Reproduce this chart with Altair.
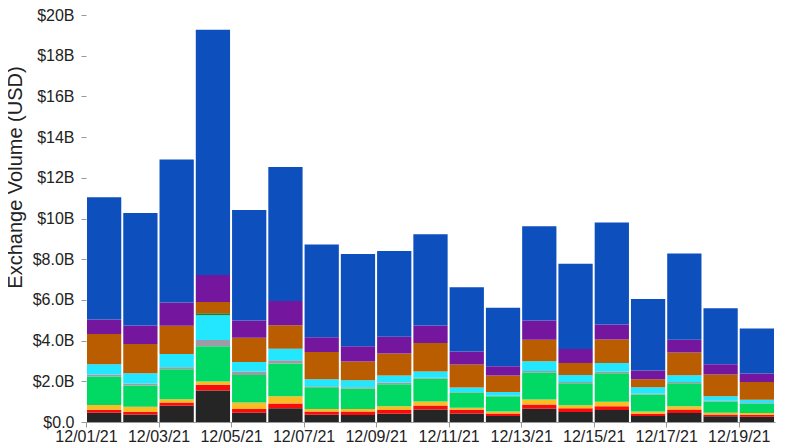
import altair as alt
import pandas as pd

dates = ["2021-12-%02d" % d for d in range(1, 20)]
date_ends = ["2021-12-%02d" % d for d in range(2, 21)]

series_names = ["S1", "S2", "S3", "S4", "S5", "S6", "S7", "S8", "S9", "S10"]
colors = ["#252525", "#f80c0c", "#fbbd23", "#02d864", "#9c9ca6", "#23e6ff",
          "#1d7f3b", "#ba5c00", "#74169e", "#0c4fbd"]

# values in billions USD, bottom to top
s1 = [0.46, 0.37, 0.80, 1.55, 0.46, 0.67, 0.36, 0.34, 0.41, 0.62, 0.42, 0.29, 0.65, 0.49, 0.59, 0.29, 0.44, 0.28, 0.26]
s2 = [0.14, 0.12, 0.16, 0.28, 0.18, 0.24, 0.16, 0.17, 0.18, 0.19, 0.18, 0.13, 0.21, 0.18, 0.19, 0.12, 0.18, 0.09, 0.10]
s3 = [0.23, 0.26, 0.16, 0.16, 0.32, 0.35, 0.12, 0.13, 0.19, 0.20, 0.10, 0.10, 0.25, 0.15, 0.21, 0.10, 0.15, 0.09, 0.08]
s4 = [1.40, 1.04, 1.47, 1.73, 1.35, 1.61, 1.07, 1.01, 1.08, 1.11, 0.75, 0.74, 1.32, 1.09, 1.41, 0.84, 1.14, 0.55, 0.46]
s5 = [0.10, 0.10, 0.10, 0.31, 0.17, 0.16, 0.05, 0.06, 0.08, 0.05, 0.03, 0.04, 0.08, 0.06, 0.08, 0.05, 0.06, 0.03, 0.03]
s6 = [0.51, 0.51, 0.65, 1.22, 0.47, 0.57, 0.34, 0.34, 0.34, 0.31, 0.22, 0.18, 0.47, 0.34, 0.42, 0.31, 0.33, 0.23, 0.16]
s7 = [0.00, 0.00, 0.00, 0.10, 0.00, 0.00, 0.00, 0.00, 0.00, 0.00, 0.00, 0.00, 0.00, 0.00, 0.00, 0.00, 0.00, 0.00, 0.00]
s8 = [1.48, 1.43, 1.39, 0.55, 1.19, 1.16, 1.34, 0.92, 1.08, 1.40, 1.12, 0.80, 1.06, 0.59, 1.16, 0.39, 1.12, 1.06, 0.88]
s9 = [0.72, 0.91, 1.14, 1.32, 0.85, 1.19, 0.73, 0.75, 0.83, 0.86, 0.64, 0.46, 0.95, 0.69, 0.73, 0.43, 0.62, 0.51, 0.41]
s10 = [6.01, 5.53, 7.03, 12.05, 5.43, 6.58, 4.55, 4.53, 4.21, 4.49, 3.16, 2.88, 4.63, 4.19, 5.01, 3.52, 4.24, 2.75, 2.22]

all_series = [s1, s2, s3, s4, s5, s6, s7, s8, s9, s10]

rows = []
for rank, (name, vals) in enumerate(zip(series_names, all_series)):
    for d, e, v in zip(dates, date_ends, vals):
        rows.append({"date": d, "date_end": e, "exchange": name, "rank": rank, "value": v * 1e9})
df = pd.DataFrame(rows)

y_ticks = [i * 2e9 for i in range(11)]
x_ticks = [{"year": 2021, "month": 12, "date": d, "utc": True} for d in range(1, 20, 2)]

chart = alt.Chart(df).transform_stack(
    stack="value",
    as_=["v0", "v1"],
    groupby=["date"],
    sort=[alt.SortField("rank", order="ascending")],
).mark_bar(xOffset=1, x2Offset=-1).encode(
    x=alt.X(
        "date:T",
        title=None,
        scale=alt.Scale(type="utc", domain=[{"year": 2021, "month": 12, "date": 1, "utc": True},
                                            {"year": 2021, "month": 12, "date": 20, "utc": True}]),
        axis=alt.Axis(
            values=x_ticks,
            labelExpr="utcFormat(datum.value, '%m/%d/%y')",
            labelFlush=False,
            labelOverlap=False,
            grid=False,
            domain=True,
            domainColor="#999999",
            tickColor="#999999",
            tickSize=5,
            labelPadding=1,
        ),
    ),
    x2="date_end:T",
    y=alt.Y(
        "v0:Q",
        scale=alt.Scale(domain=[0, 20e9], nice=False),
        axis=alt.Axis(
            values=y_ticks,
            labelExpr="replace(format(datum.value, '$.2s'), 'G', 'B')",
            title="Exchange Volume (USD)",
            titleFontSize=20,
            titleFontWeight="normal",
            titleFont="Liberation Sans",
            titleColor="#222222",
            titleAngle=-90,
            titleAlign="center",
            titleBaseline="alphabetic",
            titleX=-65,
            titleY=162,
            grid=False,
            domain=False,
            tickColor="#999999",
            tickSize=5,
            labelPadding=7,
        ),
    ),
    y2="v1:Q",
    color=alt.Color(
        "exchange:N",
        scale=alt.Scale(domain=series_names, range=colors),
        legend=None,
    ),
).properties(
    width=689,
    height=407,
    autosize=alt.AutoSizeParams(type="none"),
    padding={"left": 78, "top": 7, "right": 17, "bottom": 23},
).configure_axis(
    labelFont="Liberation Sans",
    labelFontSize=16,
    labelColor="#222222",
).configure_view(
    stroke=None,
)

chart.save("out.html", embed_options={"renderer": "svg", "actions": False})
